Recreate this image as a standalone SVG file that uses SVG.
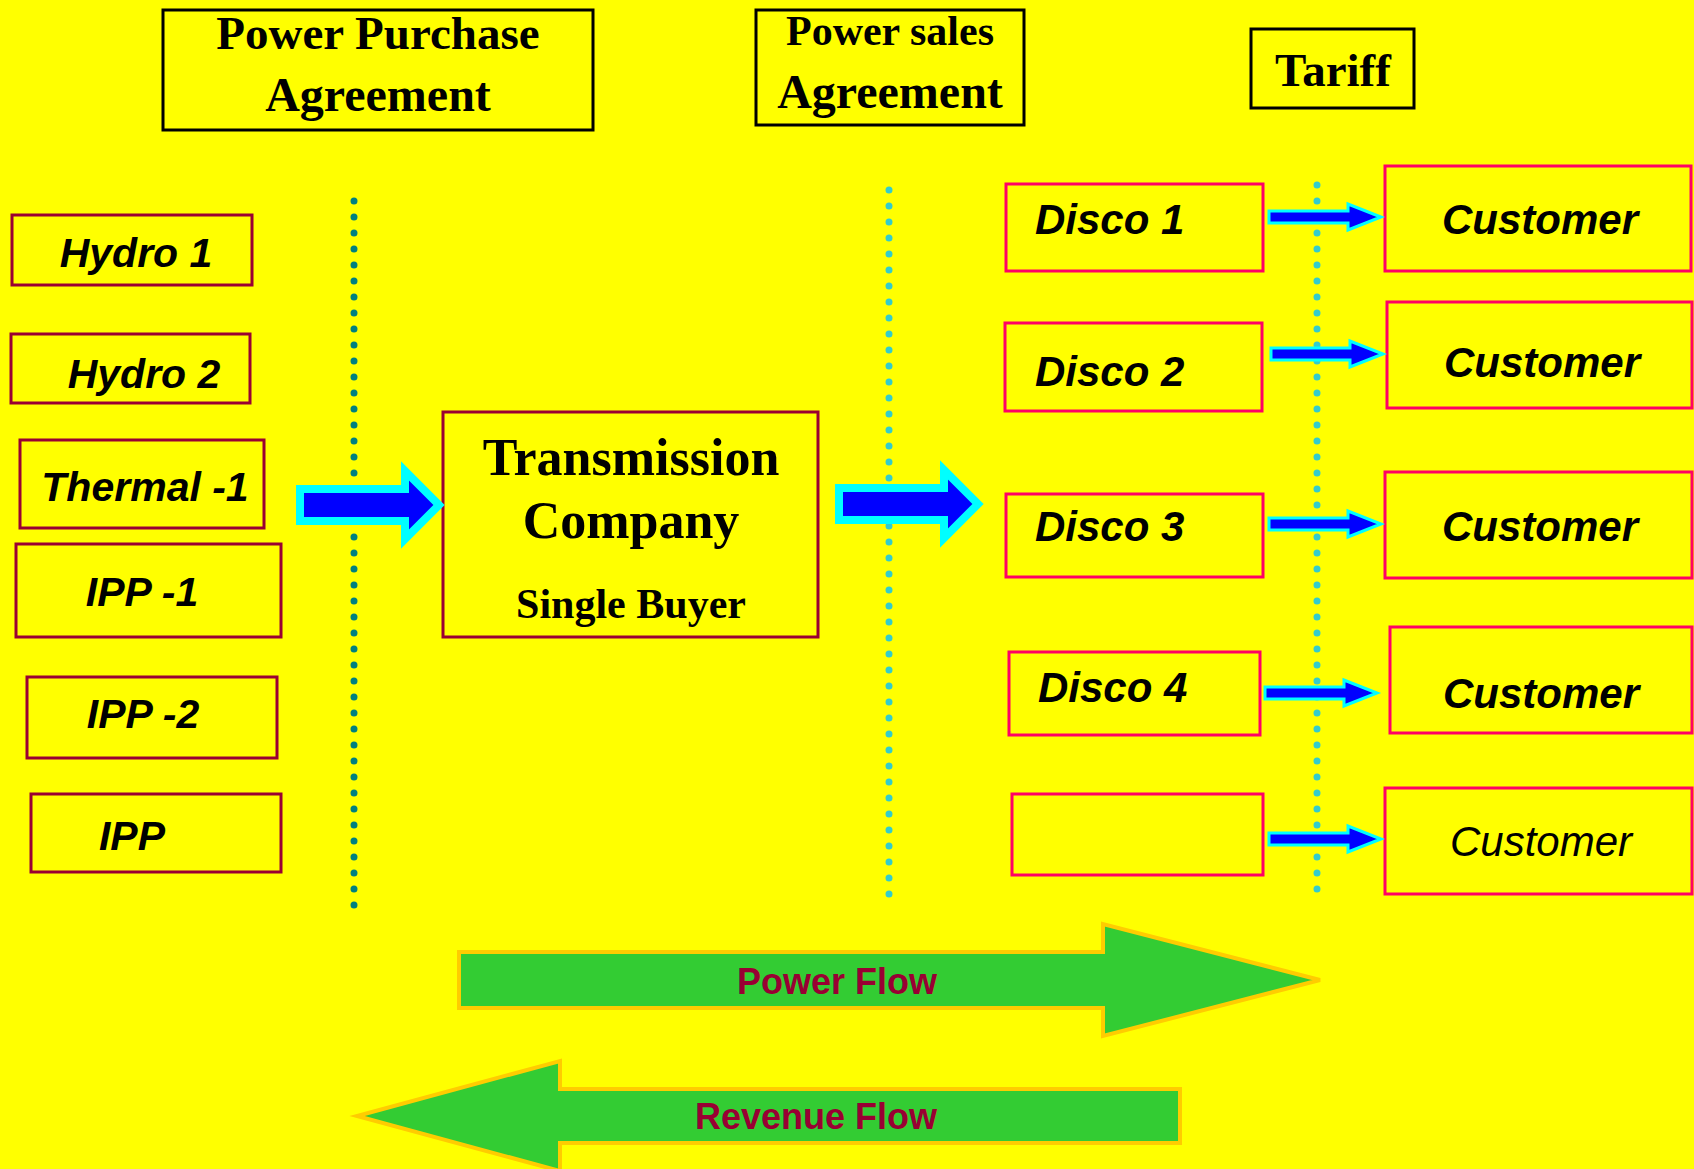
<svg xmlns="http://www.w3.org/2000/svg" width="1694" height="1169" viewBox="0 0 1694 1169">
<style>
.hdr{fill:#ffff00;stroke:#000;stroke-width:3}
.src{fill:#ffff00;stroke:#990033;stroke-width:3}
.dst{fill:#ffff00;stroke:#ff0066;stroke-width:3}
.serif{font-family:"Liberation Serif","Times New Roman",serif;font-weight:bold;fill:#000;text-anchor:middle}
.sans{font-family:"Liberation Sans",Arial,sans-serif;font-weight:bold;font-style:italic;fill:#000;font-size:41px}
.sans42{font-family:"Liberation Sans",Arial,sans-serif;font-weight:bold;font-style:italic;fill:#000;font-size:42px}
.mid{text-anchor:middle}
.big{fill:#0000ff;stroke:#00ffff;stroke-width:8;stroke-linejoin:miter}
.small{fill:#0000ff;stroke:#00ffff;stroke-width:3}
.flow{fill:#33cc33;stroke:#ffcc00;stroke-width:4}
.flowtxt{font-family:"Liberation Sans",Arial,sans-serif;font-weight:bold;font-size:36px;fill:#990033;text-anchor:middle}
.dot1{stroke:#008080;stroke-width:7;stroke-linecap:round;stroke-dasharray:0 16;fill:none}
.dot2{stroke:#33cccc;stroke-width:7;stroke-linecap:round;stroke-dasharray:0 16;fill:none}
</style>
<rect width="1694" height="1169" fill="#ffff00"/>

<g id="hdr-ppa"><rect class="hdr" x="163" y="10" width="430" height="120"/>
<text class="serif" x="378" y="49" font-size="47">Power Purchase</text>
<text class="serif" x="378" y="111" font-size="48">Agreement</text></g>
<g id="hdr-psa"><rect class="hdr" x="756" y="10" width="268" height="115"/>
<text class="serif" x="890" y="45" font-size="42">Power sales</text>
<text class="serif" x="890" y="108" font-size="48">Agreement</text></g>
<g id="hdr-tariff"><rect class="hdr" x="1251" y="29" width="163" height="79"/>
<text class="serif" x="1333" y="86" font-size="47">Tariff</text></g>

<g id="dividers">
<line class="dot1" x1="354" y1="201" x2="354" y2="906"/>
<line class="dot2" x1="889" y1="190" x2="889" y2="895"/>
<line class="dot2" x1="1317" y1="185" x2="1317" y2="890"/>
</g>

<g id="hydro1"><rect class="src" x="12" y="215" width="240" height="70"/><text class="sans mid" x="136" y="267">Hydro 1</text></g>
<g id="hydro2"><rect class="src" x="11" y="334" width="239" height="69"/><text class="sans mid" x="144" y="388">Hydro 2</text></g>
<g id="thermal1"><rect class="src" x="20" y="440" width="244" height="88"/><text class="sans mid" x="145" y="501">Thermal -1</text></g>
<g id="ipp1"><rect class="src" x="16" y="544" width="265" height="93"/><text class="sans mid" x="142" y="606">IPP -1</text></g>
<g id="ipp2"><rect class="src" x="27" y="677" width="250" height="81"/><text class="sans mid" x="143" y="728">IPP -2</text></g>
<g id="ipp"><rect class="src" x="31" y="794" width="250" height="78"/><text class="sans mid" x="132" y="850">IPP</text></g>

<g id="transco"><rect class="src" x="443" y="412" width="375" height="225"/>
<text class="serif" x="631" y="475" font-size="52">Transmission</text>
<text class="serif" x="631" y="538" font-size="52">Company</text>
<text class="serif" x="631" y="618" font-size="42">Single Buyer</text></g>

<g id="disco1"><rect class="dst" x="1006" y="184" width="257" height="87"/><text class="sans42" x="1035" y="234">Disco 1</text></g>
<g id="disco2"><rect class="dst" x="1005" y="323" width="257" height="88"/><text class="sans42" x="1035" y="386">Disco 2</text></g>
<g id="disco3"><rect class="dst" x="1006" y="494" width="257" height="83"/><text class="sans42" x="1035" y="541">Disco 3</text></g>
<g id="disco4"><rect class="dst" x="1009" y="652" width="251" height="83"/><text class="sans42" x="1038" y="702">Disco 4</text></g>
<g id="disco5"><rect class="dst" x="1012" y="794" width="251" height="81"/></g>

<g id="cust1"><rect class="dst" x="1385" y="166" width="306" height="105"/><text class="sans42 mid" x="1540" y="234">Customer</text></g>
<g id="cust2"><rect class="dst" x="1387" y="302" width="305" height="106"/><text class="sans42 mid" x="1542" y="377">Customer</text></g>
<g id="cust3"><rect class="dst" x="1385" y="472" width="307" height="106"/><text class="sans42 mid" x="1540" y="541">Customer</text></g>
<g id="cust4"><rect class="dst" x="1390" y="627" width="302" height="106"/><text class="sans42 mid" x="1541" y="708">Customer</text></g>
<g id="cust5"><rect class="dst" x="1385" y="788" width="307" height="106"/><text x="1541" y="856" font-size="42" font-family="Liberation Sans, Arial, sans-serif" font-style="italic" text-anchor="middle" fill="#000">Customer</text></g>

<g id="connectors">
<path class="big" d="M300,489 H405 V471 L439,505 L405,539 V521 H300 Z"/>
<path class="big" d="M839,488 H944 V470 L978,504 L944,538 V520 H839 Z"/>
<path class="small" d="M1269,211 H1348 V204 L1381,217 L1348,230 V223 H1269 Z"/>
<path class="small" d="M1271,348 H1350 V341 L1383,354 L1350,367 V360 H1271 Z"/>
<path class="small" d="M1269,518 H1348 V511 L1381,524 L1348,537 V530 H1269 Z"/>
<path class="small" d="M1265,687 H1344 V680 L1377,693 L1344,706 V699 H1265 Z"/>
<path class="small" d="M1269,833 H1348 V826 L1381,839 L1348,852 V845 H1269 Z"/>
</g>

<g id="power-flow"><path class="flow" d="M459,952 H1103 V924 L1320,980 L1103,1036 V1008 H459 Z"/>
<text class="flowtxt" x="837" y="994">Power Flow</text></g>
<g id="revenue-flow"><path class="flow" d="M1180,1089 H560 V1061 L357,1116 L560,1171 V1143 H1180 Z"/>
<text class="flowtxt" x="816" y="1129">Revenue Flow</text></g>
</svg>
